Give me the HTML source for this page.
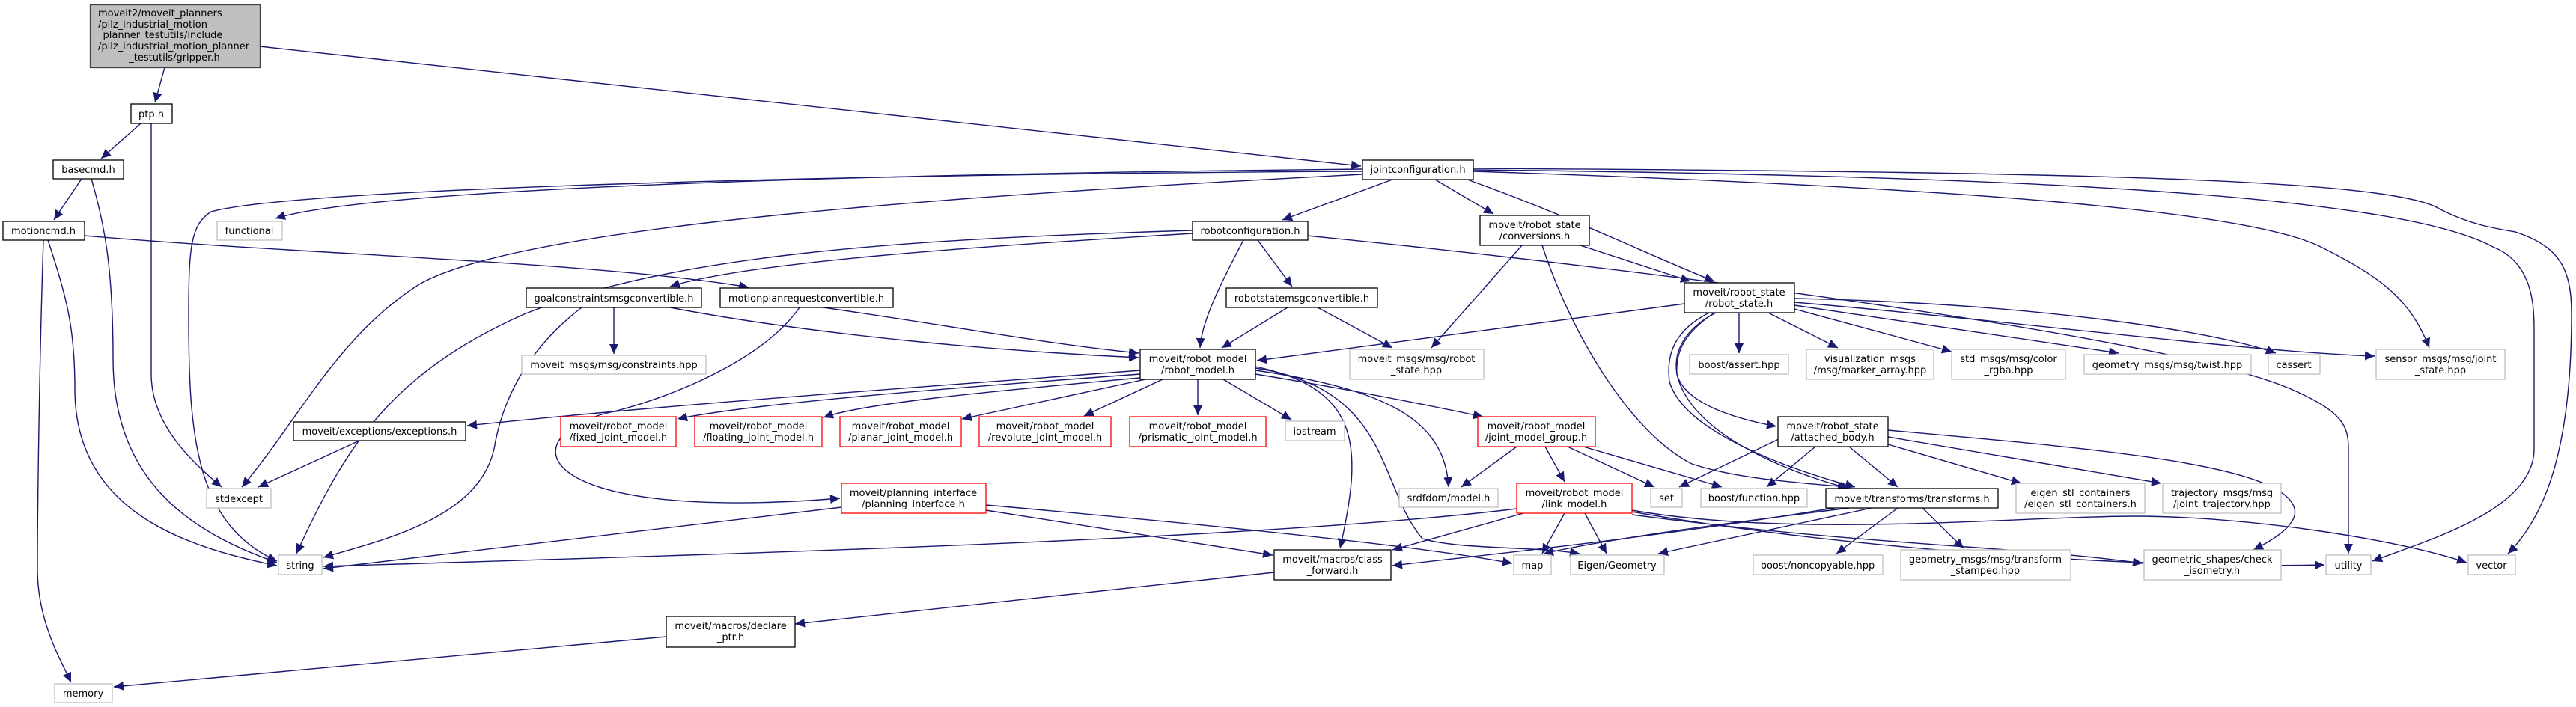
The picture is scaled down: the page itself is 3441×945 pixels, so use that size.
<!DOCTYPE html>
<html><head><meta charset="utf-8"><style>
html,body{margin:0;padding:0;background:#fff;}
svg{display:block;}
text{font-family:"DejaVu Sans","Liberation Sans",sans-serif;font-size:13px;fill:#000;}
.e{fill:none;stroke:#191970;stroke-width:1.4;marker-end:url(#a);}
.b{fill:#fff;stroke:#000;stroke-width:1.3;}
.g{fill:#fff;stroke:#bfbfbf;stroke-width:1.3;}
.r{fill:#fff;stroke:#ff0000;stroke-width:1.3;}
</style></head><body>
<svg width="3441" height="945" viewBox="0 0 3441 945" xmlns="http://www.w3.org/2000/svg">
<defs><marker id="a" markerUnits="userSpaceOnUse" markerWidth="14" markerHeight="12" refX="13" refY="6" orient="auto"><path d="M0,0 L13,6 L0,12 z" fill="#191970"/></marker></defs>
<g>
<path class="e" d="M220,90 L207,137"/>
<path class="e" d="M347,62 L1818,222"/>
<path class="e" d="M188,165 L135,212"/>
<path class="e" d="M202,165 L202,500 C202,570 260,620 296,651"/>
<path class="e" d="M109,239 L72,294"/>
<path class="e" d="M122,239 C140,300 151,360 151,480 C151,640 250,710 370,752"/>
<path class="e" d="M58,321 C52,500 50,700 50,760 C50,830 80,880 95,912"/>
<path class="e" d="M64,321 C90,400 100,440 100,520 C100,680 240,730 370,756"/>
<path class="e" d="M113,315 C400,340 800,350 1000,384"/>
<path class="e" d="M1820,226 C1200,232 500,250 368,292"/>
<path class="e" d="M1820,229 C1200,232 400,250 282,283 C255,300 252,330 252,420 C252,580 260,700 370,750"/>
<path class="e" d="M1820,233 C1300,260 700,300 560,380 C450,450 400,560 323,651"/>
<path class="e" d="M1860,240 L1713,294"/>
<path class="e" d="M1917,240 L1995,286"/>
<path class="e" d="M1960,240 C2100,290 2200,340 2290,376"/>
<path class="e" d="M1968,229 C2600,250 3000,280 3100,330 C3180,370 3220,400 3245,465"/>
<path class="e" d="M1968,227 C2700,235 3200,260 3330,330 C3380,350 3385,400 3385,440 L3385,600 C3385,680 3250,720 3169,750"/>
<path class="e" d="M1968,225 C2800,230 3200,240 3260,280 C3300,300 3330,305 3360,310 C3420,330 3435,360 3435,420 C3435,600 3400,690 3350,740"/>
<path class="e" d="M1593,312 C1300,330 1000,350 895,383"/>
<path class="e" d="M1593,308 C1200,320 900,340 700,420 C520,500 460,600 396,740"/>
<path class="e" d="M1661,321 C1630,380 1605,430 1603,465"/>
<path class="e" d="M1680,321 L1726,383"/>
<path class="e" d="M1746,315 C2200,360 2900,450 3060,520 C3130,550 3137,570 3137,600 L3137,740"/>
<path class="e" d="M2033,328 L1912,465"/>
<path class="e" d="M2111,328 L2258,376"/>
<path class="e" d="M2060,328 C2100,450 2180,580 2260,620 C2320,640 2400,645 2468,651"/>
<path class="e" d="M1720,411 L1632,465"/>
<path class="e" d="M1760,411 L1860,465"/>
<path class="e" d="M820,411 L820,473"/>
<path class="e" d="M895,411 C1100,450 1350,470 1521,478"/>
<path class="e" d="M777,411 C700,470 670,540 660,600 C640,690 520,720 432,745"/>
<path class="e" d="M1100,411 C1300,440 1400,460 1521,472"/>
<path class="e" d="M1068,411 C1020,480 900,530 820,550 C680,580 700,700 1122,666"/>
<path class="e" d="M2250,406 L1679,482"/>
<path class="e" d="M2323,418 L2323,472"/>
<path class="e" d="M2362,418 L2455,465"/>
<path class="e" d="M2397,413 L2607,470"/>
<path class="e" d="M2397,408 L2830,472"/>
<path class="e" d="M2397,399 C2700,405 2950,440 3040,472"/>
<path class="e" d="M2397,404 C2700,430 3000,470 3172,476"/>
<path class="e" d="M2292,418 C2250,440 2235,470 2240,500 C2250,540 2320,560 2373,570"/>
<path class="e" d="M2283,418 C2240,440 2225,470 2230,510 C2250,580 2400,630 2478,651"/>
<path class="e" d="M2290,418 C2250,445 2238,470 2240,500 C2260,590 2420,640 2470,653"/>
<path class="e" d="M1523,495 C1200,520 900,540 624,569"/>
<path class="e" d="M1523,500 C1250,520 1000,540 905,560"/>
<path class="e" d="M1523,505 C1300,525 1150,540 1100,558"/>
<path class="e" d="M1530,507 L1285,560"/>
<path class="e" d="M1553,507 L1448,556"/>
<path class="e" d="M1600,507 L1600,555"/>
<path class="e" d="M1634,507 L1725,561"/>
<path class="e" d="M1677,500 C1800,520 1900,540 1981,557"/>
<path class="e" d="M1677,495 C1850,520 1930,560 1935,651"/>
<path class="e" d="M1677,490 C1820,520 1820,600 1790,733"/>
<path class="e" d="M1677,492 C1860,520 1840,650 1900,720 C1950,735 2050,730 2110,740"/>
<path class="e" d="M2026,597 L1952,651"/>
<path class="e" d="M2064,597 L2090,644"/>
<path class="e" d="M2094,597 L2210,651"/>
<path class="e" d="M2115,597 L2300,651"/>
<path class="e" d="M2026,680 C1700,720 1000,740 432,757"/>
<path class="e" d="M2035,686 L1860,735"/>
<path class="e" d="M2090,686 L2060,740"/>
<path class="e" d="M2117,686 L2146,740"/>
<path class="e" d="M2180,684 C2500,740 2900,760 3105,755"/>
<path class="e" d="M2180,682 C2400,720 2700,690 2850,690 C3000,690 3200,720 3295,752"/>
<path class="e" d="M2180,688 C2500,730 2700,730 2862,753"/>
<path class="e" d="M2380,585 L2243,651"/>
<path class="e" d="M2425,597 L2360,651"/>
<path class="e" d="M2470,597 L2535,651"/>
<path class="e" d="M2522,594 L2700,646"/>
<path class="e" d="M2522,584 L2887,646"/>
<path class="e" d="M2522,575 C2800,600 3050,620 3065,680 C3070,700 3040,720 3010,735"/>
<path class="e" d="M2470,679 C2300,700 2150,720 2062,740"/>
<path class="e" d="M2450,679 C2200,720 2000,740 1860,756"/>
<path class="e" d="M2500,679 L2215,740"/>
<path class="e" d="M2535,679 L2453,740"/>
<path class="e" d="M2568,679 L2623,733"/>
<path class="e" d="M1124,678 L432,760"/>
<path class="e" d="M1317,682 L1700,742"/>
<path class="e" d="M1317,675 C1600,700 1900,730 2020,753"/>
<path class="e" d="M1702,765 L1062,834"/>
<path class="e" d="M890,851 L152,918"/>
<path class="e" d="M480,589 L345,651"/>
</g>
<g>
<rect x="120.5" y="6.5" width="227" height="84" fill="#bfbfbf" stroke="#404040" stroke-width="1.3"/>
<text x="131" y="22">moveit2/moveit_planners</text>
<text x="131" y="37">/pilz_industrial_motion</text>
<text x="131" y="51">_planner_testutils/include</text>
<text x="131" y="66">/pilz_industrial_motion_planner</text>
<text x="233" y="81" text-anchor="middle">_testutils/gripper.h</text>
</g>
<g text-anchor="middle">
<rect class="b" x="175" y="139" width="55" height="26"/><text x="202" y="157">ptp.h</text>
<rect class="b" x="71" y="214" width="94" height="25"/><text x="118" y="231">basecmd.h</text>
<rect class="b" x="4" y="296" width="109" height="25"/><text x="58" y="313">motioncmd.h</text>
<rect class="g" x="290" y="296" width="87" height="25"/><text x="333" y="313">functional</text>
<rect class="b" x="1820" y="214" width="148" height="26"/><text x="1894" y="231">jointconfiguration.h</text>
<rect class="b" x="1593" y="296" width="154" height="25"/><text x="1670" y="313">robotconfiguration.h</text>
<rect class="b" x="1977" y="288" width="146" height="40"/><text x="2050" y="305">moveit/robot_state</text><text x="2050" y="320">/conversions.h</text>
<rect class="b" x="703" y="385" width="234" height="26"/><text x="820" y="403">goalconstraintsmsgconvertible.h</text>
<rect class="b" x="962" y="385" width="231" height="26"/><text x="1077" y="403">motionplanrequestconvertible.h</text>
<rect class="b" x="1638" y="385" width="202" height="26"/><text x="1739" y="403">robotstatemsgconvertible.h</text>
<rect class="b" x="2250" y="378" width="147" height="40"/><text x="2323" y="395">moveit/robot_state</text><text x="2323" y="410">/robot_state.h</text>
<rect class="g" x="697" y="475" width="246" height="25"/><text x="820" y="492">moveit_msgs/msg/constraints.hpp</text>
<rect class="b" x="1523" y="467" width="154" height="40"/><text x="1600" y="484">moveit/robot_model</text><text x="1600" y="499">/robot_model.h</text>
<rect class="g" x="1803" y="467" width="179" height="40"/><text x="1892" y="484">moveit_msgs/msg/robot</text><text x="1892" y="499">_state.hpp</text>
<rect class="g" x="2257" y="474" width="132" height="26"/><text x="2323" y="492">boost/assert.hpp</text>
<rect class="g" x="2413" y="467" width="170" height="40"/><text x="2498" y="484">visualization_msgs</text><text x="2498" y="499">/msg/marker_array.hpp</text>
<rect class="g" x="2607" y="467" width="152" height="40"/><text x="2683" y="484">std_msgs/msg/color</text><text x="2683" y="499">_rgba.hpp</text>
<rect class="g" x="2784" y="474" width="223" height="26"/><text x="2895" y="492">geometry_msgs/msg/twist.hpp</text>
<rect class="g" x="3030" y="474" width="69" height="26"/><text x="3064" y="492">cassert</text>
<rect class="g" x="3174" y="467" width="172" height="40"/><text x="3260" y="484">sensor_msgs/msg/joint</text><text x="3260" y="499">_state.hpp</text>
<rect class="b" x="392" y="564" width="230" height="25"/><text x="507" y="581">moveit/exceptions/exceptions.h</text>
<rect class="r" x="749" y="557" width="154" height="40"/><text x="826" y="574">moveit/robot_model</text><text x="826" y="589">/fixed_joint_model.h</text>
<rect class="r" x="928" y="557" width="170" height="40"/><text x="1013" y="574">moveit/robot_model</text><text x="1013" y="589">/floating_joint_model.h</text>
<rect class="r" x="1122" y="557" width="162" height="40"/><text x="1203" y="574">moveit/robot_model</text><text x="1203" y="589">/planar_joint_model.h</text>
<rect class="r" x="1308" y="557" width="176" height="40"/><text x="1396" y="574">moveit/robot_model</text><text x="1396" y="589">/revolute_joint_model.h</text>
<rect class="r" x="1509" y="557" width="182" height="40"/><text x="1600" y="574">moveit/robot_model</text><text x="1600" y="589">/prismatic_joint_model.h</text>
<rect class="g" x="1717" y="563" width="79" height="26"/><text x="1756" y="581">iostream</text>
<rect class="r" x="1974" y="557" width="157" height="40"/><text x="2052" y="574">moveit/robot_model</text><text x="2052" y="589">/joint_model_group.h</text>
<rect class="b" x="2375" y="557" width="147" height="40"/><text x="2448" y="574">moveit/robot_state</text><text x="2448" y="589">/attached_body.h</text>
<rect class="g" x="276" y="653" width="86" height="26"/><text x="319" y="671">stdexcept</text>
<rect class="r" x="1124" y="646" width="193" height="40"/><text x="1220" y="663">moveit/planning_interface</text><text x="1220" y="678">/planning_interface.h</text>
<rect class="g" x="1869" y="653" width="132" height="25"/><text x="1935" y="670">srdfdom/model.h</text>
<rect class="r" x="2026" y="646" width="154" height="40"/><text x="2103" y="663">moveit/robot_model</text><text x="2103" y="678">/link_model.h</text>
<rect class="g" x="2205" y="653" width="42" height="25"/><text x="2226" y="670">set</text>
<rect class="g" x="2272" y="653" width="142" height="25"/><text x="2343" y="670">boost/function.hpp</text>
<rect class="b" x="2439" y="653" width="230" height="26"/><text x="2554" y="671">moveit/transforms/transforms.h</text>
<rect class="g" x="2693" y="646" width="172" height="40"/><text x="2779" y="663">eigen_stl_containers</text><text x="2779" y="678">/eigen_stl_containers.h</text>
<rect class="g" x="2889" y="646" width="158" height="40"/><text x="2968" y="663">trajectory_msgs/msg</text><text x="2968" y="678">/joint_trajectory.hpp</text>
<rect class="g" x="372" y="742" width="58" height="26"/><text x="401" y="760">string</text>
<rect class="b" x="1702" y="735" width="156" height="40"/><text x="1780" y="752">moveit/macros/class</text><text x="1780" y="767">_forward.h</text>
<rect class="g" x="2022" y="742" width="50" height="26"/><text x="2047" y="760">map</text>
<rect class="g" x="2098" y="742" width="125" height="26"/><text x="2160" y="760">Eigen/Geometry</text>
<rect class="g" x="2342" y="742" width="173" height="26"/><text x="2428" y="760">boost/noncopyable.hpp</text>
<rect class="g" x="2539" y="735" width="227" height="40"/><text x="2652" y="752">geometry_msgs/msg/transform</text><text x="2652" y="767">_stamped.hpp</text>
<rect class="g" x="2864" y="735" width="183" height="40"/><text x="2955" y="752">geometric_shapes/check</text><text x="2955" y="767">_isometry.h</text>
<rect class="g" x="3107" y="742" width="60" height="26"/><text x="3137" y="760">utility</text>
<rect class="g" x="3297" y="742" width="63" height="26"/><text x="3328" y="760">vector</text>
<rect class="b" x="890" y="824" width="172" height="41"/><text x="976" y="841">moveit/macros/declare</text><text x="976" y="856">_ptr.h</text>
<rect class="g" x="73" y="914" width="77" height="25"/><text x="111" y="931">memory</text>
</g>
</svg>
</body></html>
